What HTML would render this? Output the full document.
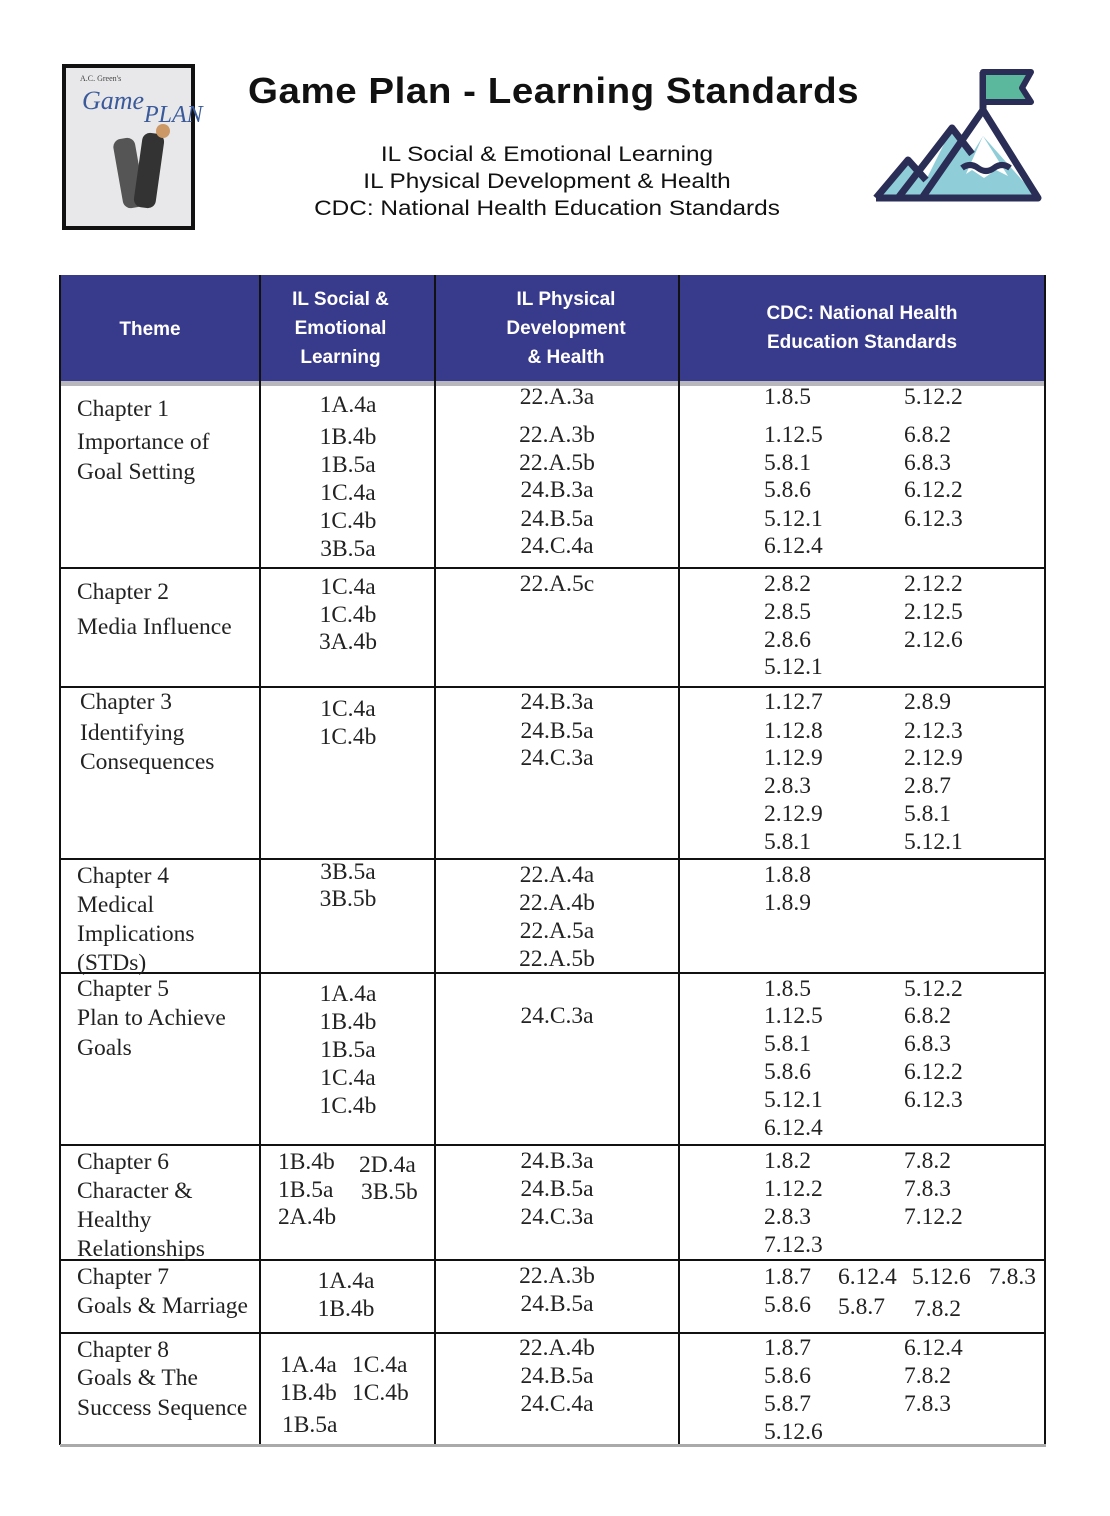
<!DOCTYPE html>
<html><head><meta charset="utf-8">
<style>
body{margin:0;width:1110px;height:1516px;background:#fff;position:relative;overflow:hidden;font-family:"Liberation Serif",serif;}
.a{position:absolute;white-space:nowrap;}
.t{font-family:"Liberation Serif",serif;font-size:23.5px;line-height:24px;color:#222;}
.h{font-family:"Liberation Sans",sans-serif;color:#fff;font-weight:bold;font-size:19px;text-align:center;line-height:29px;}
.ln{position:absolute;background:#111;}
</style></head><body>
<div class="a" style="left:62px;top:64px;width:125px;height:158px;border:4px solid #111;background:#e8e8ea;">
  <div class="a" style="left:14px;top:6px;font-size:8px;font-family:'Liberation Serif',serif;color:#444">A.C. Green's</div>
  <div class="a" style="left:16px;top:18px;font-size:26px;font-style:italic;color:#3a5a9a;font-family:'Liberation Serif',serif">Game</div>
  <div class="a" style="left:78px;top:34px;font-size:24px;font-style:italic;color:#3a5a9a;font-family:'Liberation Serif',serif">PLAN</div>
  <div class="a" style="left:52px;top:70px;width:22px;height:70px;background:#555;border-radius:8px;transform:rotate(-10deg)"></div>
  <div class="a" style="left:72px;top:65px;width:22px;height:75px;background:#333;border-radius:8px;transform:rotate(8deg)"></div>
  <div class="a" style="left:90px;top:56px;width:14px;height:14px;background:#c96;border-radius:50%"></div>
</div>
<div class="a" style="left:248px;top:70px;font-family:'Liberation Sans',sans-serif;font-weight:bold;font-size:36px;color:#111;transform:scaleX(1.07);transform-origin:0 0;letter-spacing:0.5px">Game Plan - Learning Standards</div>
<div class="a" style="left:250px;top:141px;width:594px;text-align:center;font-family:'Liberation Sans',sans-serif;font-size:21px;line-height:27px;color:#111;transform:scaleX(1.16);transform-origin:297px 0">IL Social &amp; Emotional Learning<br>IL Physical Development &amp; Health<br>CDC: National Health Education Standards</div>
<svg class="a" style="left:868px;top:68px" width="178" height="138" viewBox="0 0 178 138">
  <polygon points="8,130 40,92 58,112 84,60 104,86 115,68 170,130" fill="#8fcdd8"/>
  <polygon points="115,68 140,108 128,102 116,110 104,102 98,106" fill="#fff"/>
  <polyline points="8,130 40,92 58,112" fill="none" stroke="#2a2d55" stroke-width="7" stroke-linejoin="round"/>
  <polyline points="30,130 84,60 104,86" fill="none" stroke="#2a2d55" stroke-width="7" stroke-linejoin="round"/>
  <polyline points="54,130 115,42 170,130 8,130" fill="none" stroke="#2a2d55" stroke-width="7" stroke-linejoin="round"/>
  <path d="M94,100 q8,-6 16,0 q8,6 16,0 q8,-6 16,0" fill="none" stroke="#2a2d55" stroke-width="6"/>
  <line x1="115" y1="42" x2="115" y2="4" stroke="#2a2d55" stroke-width="7"/>
  <polygon points="115,4 163,4 154,20 163,34 115,34" fill="#5cb89c" stroke="#2a2d55" stroke-width="6" stroke-linejoin="round"/>
</svg>

<div class="a" style="left:60px;top:275px;width:986px;height:106px;background:#383a8c;"></div>
<div class="a" style="left:60px;top:381px;width:986px;height:5px;background:#b8b8bc"></div>
<div class="a h" style="left:50px;top:315px;width:200px">Theme</div>
<div class="a h" style="left:253px;top:285px;width:175px">IL Social &amp;<br>Emotional<br>Learning</div>
<div class="a h" style="left:444px;top:285px;width:244px">IL Physical<br>Development<br>&amp; Health</div>
<div class="a h" style="left:679px;top:299px;width:366px">CDC: National Health<br>Education Standards</div>
<div id="grid"></div>
<script>
const colX=[60,260,435,679,1045];
const rowY=[386,568,687,859,973,1145,1260,1333,1445];
// [text, x, centerY, align] align: l=left at x, c=center at x
const cells=[
["Chapter 1",77,408,"l"],["Importance of",77,441,"l"],["Goal Setting",77,471,"l"],
["1A.4a",348,404,"c"],["1B.4b",348,436,"c"],["1B.5a",348,464,"c"],["1C.4a",348,492,"c"],["1C.4b",348,520,"c"],["3B.5a",348,548,"c"],
["22.A.3a",557,396,"c"],["22.A.3b",557,434,"c"],["22.A.5b",557,462,"c"],["24.B.3a",557,489,"c"],["24.B.5a",557,518,"c"],["24.C.4a",557,545,"c"],
["1.8.5",764,396,"l"],["1.12.5",764,434,"l"],["5.8.1",764,462,"l"],["5.8.6",764,489,"l"],["5.12.1",764,518,"l"],["6.12.4",764,545,"l"],
["5.12.2",904,396,"l"],["6.8.2",904,434,"l"],["6.8.3",904,462,"l"],["6.12.2",904,489,"l"],["6.12.3",904,518,"l"],
["Chapter 2",77,591,"l"],["Media Influence",77,626,"l"],
["1C.4a",348,586,"c"],["1C.4b",348,614,"c"],["3A.4b",348,641,"c"],["22.A.5c",557,583,"c"],
["2.8.2",764,583,"l"],["2.8.5",764,611,"l"],["2.8.6",764,639,"l"],["5.12.1",764,666,"l"],
["2.12.2",904,583,"l"],["2.12.5",904,611,"l"],["2.12.6",904,639,"l"],
["Chapter 3",80,701,"l"],["Identifying",80,732,"l"],["Consequences",80,761,"l"],
["1C.4a",348,708,"c"],["1C.4b",348,736,"c"],
["24.B.3a",557,701,"c"],["24.B.5a",557,730,"c"],["24.C.3a",557,757,"c"],
["1.12.7",764,701,"l"],["1.12.8",764,730,"l"],["1.12.9",764,757,"l"],["2.8.3",764,785,"l"],["2.12.9",764,813,"l"],["5.8.1",764,841,"l"],
["2.8.9",904,701,"l"],["2.12.3",904,730,"l"],["2.12.9",904,757,"l"],["2.8.7",904,785,"l"],["5.8.1",904,813,"l"],["5.12.1",904,841,"l"],
["Chapter 4",77,875,"l"],["Medical",77,904,"l"],["Implications",77,933,"l"],["(STDs)",77,962,"l"],
["3B.5a",348,871,"c"],["3B.5b",348,898,"c"],
["22.A.4a",557,874,"c"],["22.A.4b",557,902,"c"],["22.A.5a",557,930,"c"],["22.A.5b",557,958,"c"],
["1.8.8",764,874,"l"],["1.8.9",764,902,"l"],
["Chapter 5",77,988,"l"],["Plan to Achieve",77,1017,"l"],["Goals",77,1047,"l"],
["1A.4a",348,993,"c"],["1B.4b",348,1021,"c"],["1B.5a",348,1049,"c"],["1C.4a",348,1077,"c"],["1C.4b",348,1105,"c"],
["24.C.3a",557,1015,"c"],
["1.8.5",764,988,"l"],["1.12.5",764,1015,"l"],["5.8.1",764,1043,"l"],["5.8.6",764,1071,"l"],["5.12.1",764,1099,"l"],["6.12.4",764,1127,"l"],
["5.12.2",904,988,"l"],["6.8.2",904,1015,"l"],["6.8.3",904,1043,"l"],["6.12.2",904,1071,"l"],["6.12.3",904,1099,"l"],
["Chapter 6",77,1161,"l"],["Character &",77,1190,"l"],["Healthy",77,1219,"l"],["Relationships",77,1248,"l"],
["1B.4b",278,1161,"l"],["1B.5a",278,1189,"l"],["2A.4b",278,1216,"l"],["2D.4a",359,1164,"l"],["3B.5b",361,1191,"l"],
["24.B.3a",557,1160,"c"],["24.B.5a",557,1188,"c"],["24.C.3a",557,1216,"c"],
["1.8.2",764,1160,"l"],["1.12.2",764,1188,"l"],["2.8.3",764,1216,"l"],["7.12.3",764,1244,"l"],
["7.8.2",904,1160,"l"],["7.8.3",904,1188,"l"],["7.12.2",904,1216,"l"],
["Chapter 7",77,1276,"l"],["Goals & Marriage",77,1305,"l"],
["1A.4a",346,1280,"c"],["1B.4b",346,1308,"c"],["22.A.3b",557,1275,"c"],["24.B.5a",557,1303,"c"],
["1.8.7",764,1276,"l"],["6.12.4",838,1276,"l"],["5.12.6",912,1276,"l"],["7.8.3",989,1276,"l"],
["5.8.6",764,1304,"l"],["5.8.7",838,1306,"l"],["7.8.2",914,1308,"l"],
["Chapter 8",77,1349,"l"],["Goals & The",77,1377,"l"],["Success Sequence",77,1407,"l"],
["1A.4a",280,1364,"l"],["1C.4a",352,1364,"l"],["1B.4b",280,1392,"l"],["1C.4b",352,1392,"l"],["1B.5a",282,1424,"l"],
["22.A.4b",557,1347,"c"],["24.B.5a",557,1375,"c"],["24.C.4a",557,1403,"c"],
["1.8.7",764,1347,"l"],["5.8.6",764,1375,"l"],["5.8.7",764,1403,"l"],["5.12.6",764,1431,"l"],
["6.12.4",904,1347,"l"],["7.8.2",904,1375,"l"],["7.8.3",904,1403,"l"]
];
const g=document.getElementById('grid');


colX.forEach((x,i)=>{
  const d=document.createElement('div');
  d.className='ln';
  
  
  d.style.left=(x-1)+'px';d.style.top='275px';d.style.width='2px';d.style.height=(1445-275)+'px';
  g.appendChild(d);
});
rowY.slice(1).forEach((y,i)=>{
  const d=document.createElement('div');
  d.className='ln';
  
  
  d.style.left='60px';d.style.top=(y-1)+'px';d.style.width='986px';d.style.height='2px';
  if(i===rowY.length-2){d.style.background='#aaa';d.style.height='3px';}
  g.appendChild(d);
});
cells.forEach(c=>{
  const d=document.createElement('div');
  d.className='a t';
  
  
  d.textContent=c[0];
  d.style.top=(c[2]-11)+'px';
  if(c[3]==='c'){d.style.left=(c[1]-80)+'px';d.style.width='160px';d.style.textAlign='center';}
  else d.style.left=c[1]+'px';
  g.appendChild(d);
});
</script>
</body></html>
